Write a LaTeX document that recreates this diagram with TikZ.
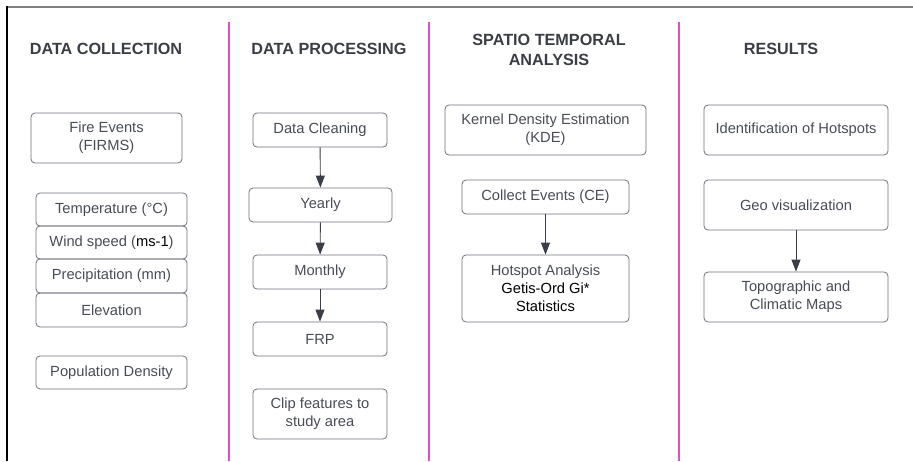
\documentclass[tikz,border=0pt]{standalone}
\usepackage{fontspec}
\setmainfont{Liberation Sans}
\usetikzlibrary{arrows.meta}
\definecolor{boxgray}{RGB}{110,114,122}
\definecolor{txtgray}{RGB}{72,76,86}
\definecolor{headgray}{RGB}{58,61,68}
\definecolor{arrgray}{RGB}{58,62,72}
\definecolor{pinkline}{RGB}{226,78,204}
\definecolor{topgray}{RGB}{128,128,128}
\tikzset{
  stagebox/.style={draw=boxgray, line width=0.8pt, rounded corners=4pt, align=center,
    inner sep=0pt, text=txtgray, font=\fontsize{14.7}{18}\selectfont},
  heading/.style={align=center, text=headgray, font=\fontsize{16.2}{20}\selectfont\bfseries},
  flow/.style={draw=arrgray, line width=0.9pt, -{Triangle[length=12pt,width=9pt]}},
  divider/.style={draw=pinkline, line width=1.4pt}
}
\begin{document}
\begin{tikzpicture}[x=1pt,y=-1pt]
\useasboundingbox (0,0) rectangle (913,461);
% frame
\draw[topgray, line width=2pt] (6,6.5) -- (913,6.5);
\draw[black, line width=2pt] (6.5,6) -- (6.5,461);
% dividers
\draw[divider] (229,22) -- (229,461);
\draw[divider] (429,22) -- (429,461);
\draw[divider] (679,22) -- (679,461);
% headings
\node[heading] (h1) at (106,49) {DATA COLLECTION};
\node[heading] (h2) at (329,49) {DATA PROCESSING};
\node[heading] (h3) at (549,50) {SPATIO TEMPORAL\\ANALYSIS};
\node[heading] (h4) at (781,49) {RESULTS};
% column 1
\node[stagebox, minimum width=151pt, minimum height=50pt] (fire) at (106.5,138) {Fire Events\\(FIRMS)};
\node[stagebox, minimum width=151pt, minimum height=33pt] (temp) at (111.5,209.5) {Temperature (°C)};
\node[stagebox, minimum width=151pt, minimum height=33pt] (wind) at (111.5,242.5) {Wind speed ({\color{black}ms-1})};
\node[stagebox, minimum width=151pt, minimum height=34pt] (precip) at (111.5,276) {Precipitation (mm)};
\node[stagebox, minimum width=151pt, minimum height=34pt] (elev) at (111.5,310) {Elevation};
\node[stagebox, minimum width=151pt, minimum height=33pt] (pop) at (111.5,372.5) {Population Density};
% column 2
\node[stagebox, minimum width=134pt, minimum height=34pt] (clean) at (320,130) {Data Cleaning};
\node[stagebox, minimum width=143pt, minimum height=34pt] (yearly) at (320.5,205) {Yearly};
\node[stagebox, minimum width=134pt, minimum height=34pt] (monthly) at (320,272) {Monthly};
\node[stagebox, minimum width=134pt, minimum height=34pt] (frp) at (320,339) {FRP};
\node[stagebox, minimum width=134pt, minimum height=50pt] (clip) at (320,414) {Clip features to\\study area};
% column 3
\node[stagebox, minimum width=201pt, minimum height=50pt] (kde) at (545.5,130) {Kernel Density Estimation\\(KDE)};
\node[stagebox, minimum width=167pt, minimum height=34pt] (ce) at (545.5,197) {Collect Events (CE)};
\node[stagebox, minimum width=167pt, minimum height=67pt] (hot) at (545.5,288.5) {Hotspot Analysis\\{\color{black}Getis-Ord Gi*}\\{\color{black}Statistics}};
% column 4
\node[stagebox, minimum width=184pt, minimum height=50pt] (ident) at (796,130) {Identification of Hotspots};
\node[stagebox, minimum width=184pt, minimum height=50pt] (geo) at (796,205) {Geo visualization};
\node[stagebox, minimum width=184pt, minimum height=50pt] (topo) at (796,297) {Topographic and\\Climatic Maps};
% arrows
\draw[flow] (clean) -- (yearly);
\draw[flow] (yearly) -- (monthly);
\draw[flow] (monthly) -- (frp);
\draw[flow] (ce) -- (hot);
\draw[flow] (geo) -- (topo);
\end{tikzpicture}
\end{document}
